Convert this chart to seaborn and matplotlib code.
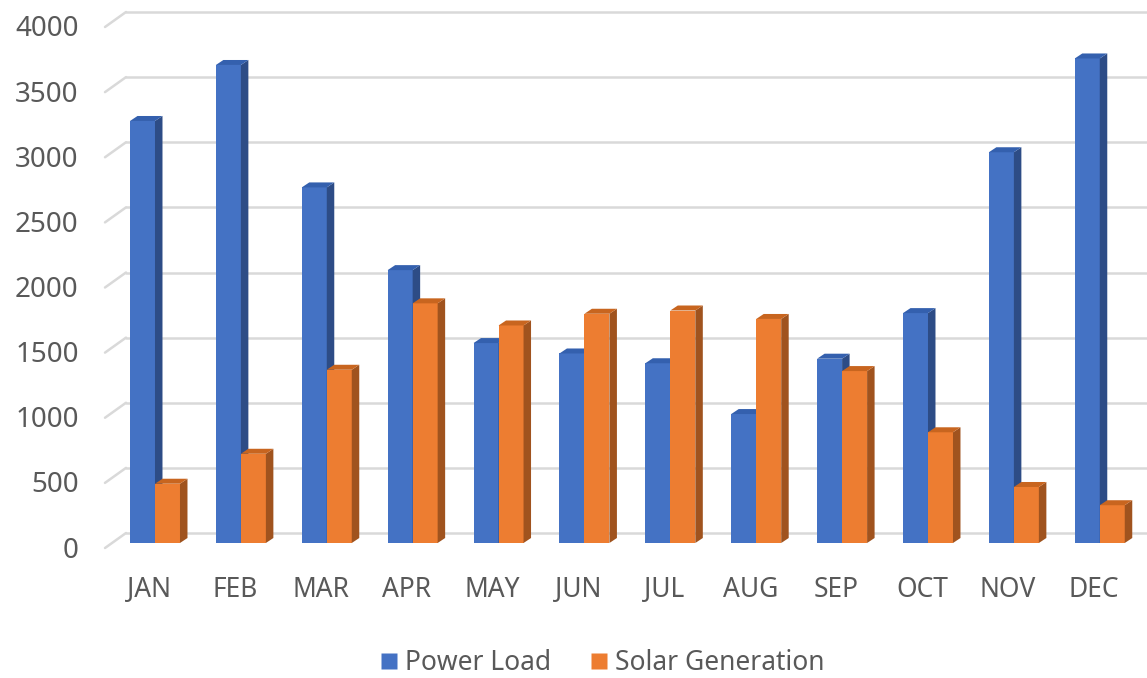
import numpy as np
import pandas as pd
import matplotlib
matplotlib.use("Agg")
import matplotlib.pyplot as plt
import matplotlib.colors as mcolors
from matplotlib.patches import Polygon
from matplotlib.lines import Line2D
from matplotlib.transforms import ScaledTranslation
import seaborn as sns

months = ["JAN", "FEB", "MAR", "APR", "MAY", "JUN", "JUL", "AUG", "SEP", "OCT", "NOV", "DEC"]
power_load = [3240, 3670, 2730, 2095, 1535, 1455, 1380, 990, 1415, 1765, 3000, 3720]
solar_gen = [455, 685, 1330, 1840, 1670, 1760, 1785, 1720, 1320, 850, 430, 290]
series_names = ["Power Load", "Solar Generation"]
yticks = [0, 500, 1000, 1500, 2000, 2500, 3000, 3500, 4000]

BLUE, ORANGE = "#4472C4", "#ED7D31"
SIDE = {BLUE: "#2D4C86", ORANGE: "#A0531E"}
TOP = {BLUE: "#3460AE", ORANGE: "#C8651F"}

df = pd.DataFrame({
    "month": months * 2,
    "value": power_load + solar_gen,
    "series": [series_names[0]] * 12 + [series_names[1]] * 12,
})

sns.set_style("white")
plt.rcParams["font.family"] = ["Noto Sans", "DejaVu Sans"]

W, H = 1147, 678
fig = plt.figure(figsize=(W / 100, H / 100), dpi=100)
ax = fig.add_axes([105 / W, 1 - 543 / H, (W - 105) / W, 521 / H])

sns.barplot(data=df, x="month", y="value", hue="series", palette=[BLUE, ORANGE],
            width=0.582, gap=0, saturation=1, legend=False, ax=ax, errorbar=None)

ax.set_ylim(0, 4000)
ax.set_xlim(-0.582, 11.55)
for s in ax.spines.values():
    s.set_visible(False)

# pixel -> data unit conversions derived from axes size
ax_h_px = 521
ax_w_px = W - 105
dpu_y = 4000 / ax_h_px
dpu_x = (11.55 + 0.582) / ax_w_px

# back-wall gridlines with slanted floor segments
ytr = ax.get_yaxis_transform()
x_wall = 21 / ax_w_px
for v in yticks:
    ax.plot([x_wall, 1], [v + 10 * dpu_y] * 2, transform=ytr, color="#D9D9D9",
            lw=1.8, zorder=0, clip_on=False)
    ax.plot([0, x_wall], [v - 5 * dpu_y, v + 10 * dpu_y], transform=ytr,
            color="#D9D9D9", lw=1.8, zorder=0, clip_on=False)

# 3D faces from the bar patches
dx = 7.5 * dpu_x
dy = 5 * dpu_y
for p in list(ax.patches):
    fc = mcolors.to_hex(p.get_facecolor())
    key = BLUE if fc.lower() == BLUE.lower() else ORANGE
    z = 2 if key == BLUE else 3
    p.set_zorder(z)
    p.set_edgecolor("none")
    x0, w, h = p.get_x(), p.get_width(), p.get_height()
    side = Polygon([(x0 + w, 0), (x0 + w + dx, dy), (x0 + w + dx, h + dy), (x0 + w, h)],
                   closed=True, facecolor=SIDE[key], edgecolor="none", zorder=z)
    top = Polygon([(x0, h), (x0 + dx, h + dy), (x0 + w + dx, h + dy), (x0 + w, h)],
                  closed=True, facecolor=TOP[key], edgecolor="none", zorder=z)
    ax.add_patch(side)
    ax.add_patch(top)

ax.set_yticks(yticks)
ax.set_yticklabels([str(v) for v in yticks])
ax.set_xlabel("")
ax.set_ylabel("")
ax.tick_params(axis="y", length=0, pad=19, labelsize=20, labelcolor="#595959")
ax.tick_params(axis="x", length=0, pad=24, labelsize=19, labelcolor="#595959")
for lab in ax.get_yticklabels():
    lab.set_transform(lab.get_transform() + ScaledTranslation(0, -4 / 100, fig.dpi_scale_trans))
for lab in ax.get_xticklabels():
    lab.set_transform(lab.get_transform() + ScaledTranslation(-6 / 100, 0, fig.dpi_scale_trans))

handles = [Line2D([0], [0], marker="s", linestyle="none", markersize=11.5,
                  markerfacecolor=c, markeredgecolor="none") for c in (BLUE, ORANGE)]
leg = fig.legend(handles, series_names, loc="center", ncol=2,
                 bbox_to_anchor=(602 / W, 1 - 663 / H), frameon=False,
                 fontsize=19, handlelength=0.7, handletextpad=0.25, columnspacing=1.45)
for t in leg.get_texts():
    t.set_color("#595959")

fig.savefig("out.png", dpi=100)
